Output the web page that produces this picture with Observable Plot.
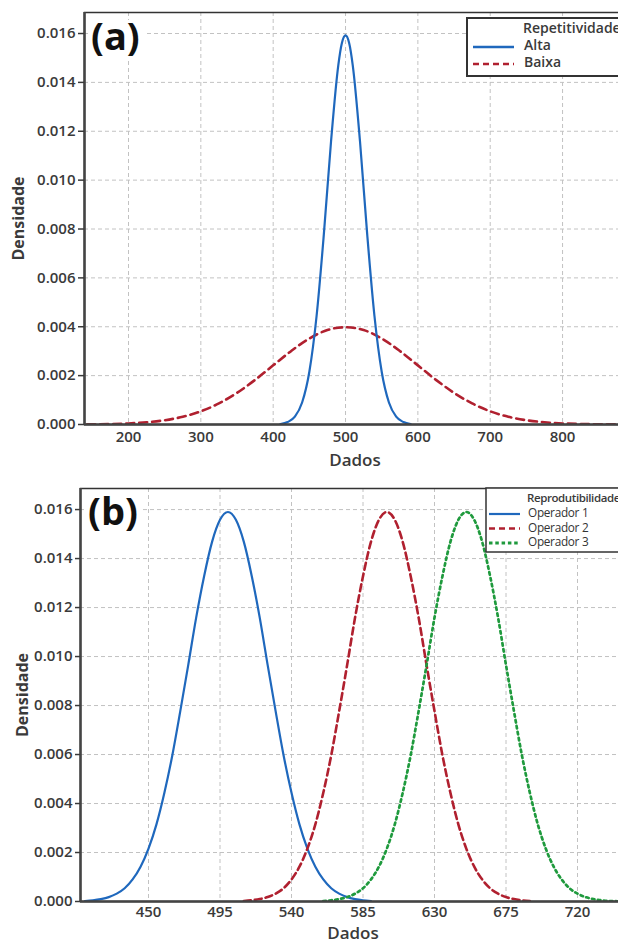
<!DOCTYPE html>
<html><head><meta charset="utf-8">
<script src="https://cdn.jsdelivr.net/npm/d3@7"></script>
<script src="https://cdn.jsdelivr.net/npm/@observablehq/plot@0.6"></script>
<style>
body{margin:0;background:#fff;}
#wrap{position:relative;width:618px;height:940px;overflow:hidden;background:#fff;}
#wrap > svg{display:block;max-width:none !important;}
#overlay{position:absolute;left:0;top:0;}
</style></head><body><div id="wrap"></div>
<script>
// ---------- Panel (a): Repetitividade ----------
const xTicksA = [200, 300, 400, 500, 600, 700, 800];
const yTicks = [0, 0.002, 0.004, 0.006, 0.008, 0.010, 0.012, 0.014, 0.016];

const xAlta = [410, 420, 430, 440, 450, 460, 470, 480, 490, 495, 500, 505, 510, 520, 530, 540, 550, 560, 570, 580, 590];
const yAlta = [0.00002, 0.00010, 0.00032, 0.00090, 0.00216, 0.00444, 0.00777, 0.01159, 0.01470, 0.01561, 0.01592, 0.01561, 0.01470, 0.01159, 0.00777, 0.00444, 0.00216, 0.00090, 0.00032, 0.00010, 0.00002];

const xBaixa = [125, 150, 175, 200, 225, 250, 275, 300, 325, 350, 375, 400, 425, 450, 475, 500, 525, 550, 575, 600, 625, 650, 675, 700, 725, 750, 775, 800, 825, 850, 875];
const yBaixa = [0.0000035, 0.0000087, 0.000020, 0.000044, 0.000091, 0.000175, 0.000317, 0.000540, 0.000863, 0.001295, 0.001826, 0.002420, 0.003011, 0.003521, 0.003866, 0.003980, 0.003866, 0.003521, 0.003011, 0.002420, 0.001826, 0.001295, 0.000863, 0.000540, 0.000317, 0.000175, 0.000091, 0.000044, 0.000020, 0.0000087, 0.0000035];

// ---------- Panel (b): Reprodutibilidade ----------
const xTicksB = [450, 495, 540, 585, 630, 675, 720];

const xOp1 = [410, 415, 420, 425, 430, 435, 440, 445, 450, 455, 460, 465, 470, 475, 480, 485, 490, 495, 500, 505, 510, 515, 520, 525, 530, 535, 540, 545, 550, 555, 560, 565, 570, 575, 580, 585, 590];
const yOp1 = [0.00002, 0.00005, 0.00010, 0.00018, 0.00032, 0.00054, 0.00090, 0.00142, 0.00216, 0.00315, 0.00444, 0.00597, 0.00777, 0.00965, 0.01159, 0.01328, 0.01468, 0.01558, 0.01590, 0.01558, 0.01468, 0.01328, 0.01159, 0.00965, 0.00777, 0.00597, 0.00444, 0.00315, 0.00216, 0.00142, 0.00090, 0.00054, 0.00032, 0.00018, 0.00010, 0.00005, 0.00002];

const xOp2 = [510, 515, 520, 525, 530, 535, 540, 545, 550, 555, 560, 565, 570, 575, 580, 585, 590, 595, 600, 605, 610, 615, 620, 625, 630, 635, 640, 645, 650, 655, 660, 665, 670, 675, 680, 685, 690];
const yOp2 = [0.00002, 0.00005, 0.00010, 0.00018, 0.00032, 0.00054, 0.00090, 0.00142, 0.00216, 0.00315, 0.00444, 0.00597, 0.00777, 0.00965, 0.01159, 0.01328, 0.01468, 0.01558, 0.01590, 0.01558, 0.01468, 0.01328, 0.01159, 0.00965, 0.00777, 0.00597, 0.00444, 0.00315, 0.00216, 0.00142, 0.00090, 0.00054, 0.00032, 0.00018, 0.00010, 0.00005, 0.00002];

const xOp3 = [560, 565, 570, 575, 580, 585, 590, 595, 600, 605, 610, 615, 620, 625, 630, 635, 640, 645, 650, 655, 660, 665, 670, 675, 680, 685, 690, 695, 700, 705, 710, 715, 720, 725, 730, 735, 740, 745, 750];
const yOp3 = [0.00002, 0.00005, 0.00010, 0.00018, 0.00032, 0.00054, 0.00090, 0.00142, 0.00216, 0.00315, 0.00444, 0.00597, 0.00777, 0.00965, 0.01159, 0.01328, 0.01468, 0.01558, 0.01590, 0.01558, 0.01468, 0.01328, 0.01159, 0.00965, 0.00777, 0.00597, 0.00444, 0.00315, 0.00216, 0.00142, 0.00090, 0.00054, 0.00032, 0.00018, 0.00010, 0.00005, 0.00002, 0.00001, 0.000005];

const toRows = (xs, ys) => xs.map((x, i) => ({x, y: ys[i]}));

const BLUE = "#1f68bd", RED = "#b0202f", GREEN = "#1f9a3d";
const TXT = "#3a3a3a";
const FONT = '"Open Sans", "DejaVu Sans", sans-serif';
const gridStyle = {stroke: "#c2c2c2", strokeOpacity: 1, strokeDasharray: "4,3", strokeWidth: 1};

function panel(o) {
  return Plot.plot({
    width: 626, height: o.height,
    marginTop: o.mt, marginBottom: o.mb, marginLeft: o.ml, marginRight: 1,
    style: {fontFamily: FONT, color: TXT, background: "white", maxWidth: "none", overflow: "visible"},
    x: {domain: o.xDomain},
    y: {domain: [0, 0.01686]},
    marks: [
      Plot.gridX(o.xTicks, gridStyle),
      Plot.gridY(yTicks.filter(d => d > 0), gridStyle),
      ...o.lines,
      Plot.frame({stroke: "#333", strokeWidth: 1.5}),
      Plot.ruleX([o.xDomain[0]], {stroke: "#444", strokeWidth: 2.5}),
      Plot.ruleY([0], {stroke: "#444", strokeWidth: 2.5}),
      Plot.axisY(yTicks, {tickSize: o.ytick, tickPadding: 3, tickFormat: d3.format(".3f"), fontSize: 15, fontWeight: 600, strokeWidth: 1.5, label: null}),
      Plot.axisX(o.xTicks, {tickSize: 0, tickPadding: o.xpad, fontSize: 15, fontWeight: 600, label: null}),
      Plot.text(["Dados"], {text: d => d, frameAnchor: "bottom", lineAnchor: "middle", textAnchor: "middle", dy: o.dadosDy, fontSize: 17, fontWeight: 600}),
      Plot.text(["Densidade"], {text: d => d, frameAnchor: "left", lineAnchor: "middle", textAnchor: "middle", dx: o.densDx, rotate: -90, fontSize: 16, fontWeight: 700})
    ]
  });
}

const lineOpts = (stroke, dash, w) => ({x: "x", y: "y", stroke, strokeWidth: w, strokeDasharray: dash, curve: "monotone-x", clip: true});

const plotA = panel({
  height: 475, mt: 12, mb: 51, ml: 84, xDomain: [139.2, 887], xTicks: xTicksA,
  ytick: 6, xpad: 7, dadosDy: 36, densDx: -66,
  lines: [
    Plot.line(toRows(xBaixa, yBaixa), lineOpts(RED, "8,5", 2.6)),
    Plot.line(toRows(xAlta, yAlta), lineOpts(BLUE, null, 2.2))
  ]
});
const plotB = panel({
  height: 465, mt: 13, mb: 39, ml: 80, xDomain: [407.2, 750.2], xTicks: xTicksB,
  ytick: 5, xpad: 5, dadosDy: 32, densDx: -58,
  lines: [
    Plot.line(toRows(xOp1, yOp1), lineOpts(BLUE, null, 2.2)),
    Plot.line(toRows(xOp2, yOp2), lineOpts(RED, "7,4", 2.6)),
    Plot.line(toRows(xOp3, yOp3), lineOpts(GREEN, "2.6,3.4", 2.7))
  ]
});

const wrap = document.getElementById("wrap");
wrap.appendChild(plotA);
wrap.appendChild(plotB);

// ---------- overlay: panel tags and legends ----------
const ov = d3.select(wrap).append("svg").attr("id", "overlay")
  .attr("width", 618).attr("height", 940).style("font-family", FONT);

function tag(label, x, y) {
  ov.append("rect").attr("x", x - 1).attr("y", y - 30).attr("width", 56).attr("height", 40).attr("fill", "white");
  ov.append("text").attr("x", x).attr("y", y).attr("font-size", 38).attr("font-weight", 700).attr("fill", "#111").text(label);
}
tag("(a)", 91, 50);
tag("(b)", 88, 525);

// legend (a)
const legA = {title: "Repetitividade", items: [["Alta", BLUE, null, 2.5], ["Baixa", RED, "6,4", 2.6]]};
ov.append("rect").attr("x", 467).attr("y", 18).attr("width", 200).attr("height", 58)
  .attr("fill", "white").attr("stroke", "#333").attr("stroke-width", 2);
ov.append("text").attr("x", 523).attr("y", 33).attr("font-size", 14).attr("font-weight", 600).attr("fill", TXT).text(legA.title);
legA.items.forEach(([name, c, dash, w], i) => {
  const yb = 50 + i * 17;
  ov.append("line").attr("x1", 473).attr("x2", 514).attr("y1", yb - 3).attr("y2", yb - 3)
    .attr("stroke", c).attr("stroke-width", w).attr("stroke-dasharray", dash);
  ov.append("text").attr("x", 524).attr("y", yb).attr("font-size", 14).attr("font-weight", 600).attr("fill", TXT).text(name);
});

// legend (b)
const legB = {title: "Reprodutibilidade", items: [["Operador 1", BLUE, null, 2.2], ["Operador 2", RED, "6,4", 2.5], ["Operador 3", GREEN, "3.5,2.8", 2.8]]};
ov.append("rect").attr("x", 486).attr("y", 488).attr("width", 200).attr("height", 64)
  .attr("fill", "white").attr("stroke", "#333").attr("stroke-width", 1.5);
ov.append("text").attr("x", 527).attr("y", 502).attr("font-size", 11.5).attr("font-weight", 600).attr("letter-spacing", "-0.4px").attr("fill", TXT).text(legB.title);
legB.items.forEach(([name, c, dash, w], i) => {
  const yb = 517 + i * 14.5;
  ov.append("line").attr("x1", 489).attr("x2", 520).attr("y1", yb - 3).attr("y2", yb - 3)
    .attr("stroke", c).attr("stroke-width", w).attr("stroke-dasharray", dash);
  ov.append("text").attr("x", 528).attr("y", yb).attr("font-size", 11.8).attr("letter-spacing", "-0.3px").attr("fill", "#333").text(name);
});
</script></body></html>
